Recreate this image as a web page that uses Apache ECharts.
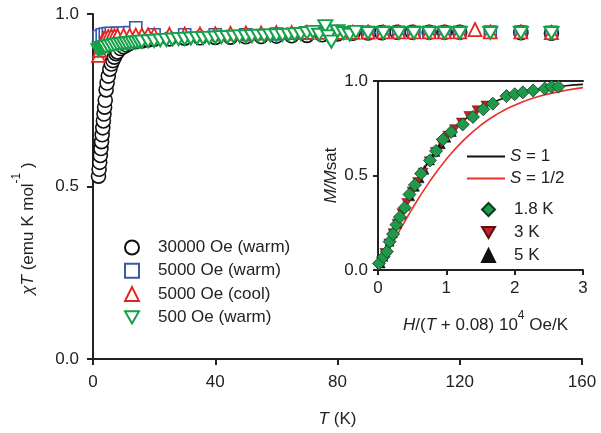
<!DOCTYPE html>
<html><head><meta charset="utf-8">
<script src="https://cdn.jsdelivr.net/npm/echarts@6/dist/echarts.min.js"></script>
<style>html,body{margin:0;padding:0;background:#fff}#c{width:601px;height:433px}</style>
</head><body><div id="c"></div>
<script>
// ---- main plot data: chi*T vs T ----
const T30000 = [1.8,2.0,2.2,2.4,2.6,2.8,3.0,3.2,3.4,3.6,3.8,4.0,4.3,4.6,5.0,5.5,6.0,6.5,7.0,7.5,8.0,9,10,11,12,14,16,18,20,25,30,35,40,45,50,55,60,65,70,75,80,85,90,94.5,99.5,104.5,110,115,120,140,150];
const X30000 = [0.53,0.55,0.57,0.59,0.61,0.63,0.65,0.67,0.69,0.71,0.73,0.75,0.78,0.80,0.82,0.84,0.855,0.865,0.875,0.885,0.89,0.90,0.905,0.91,0.915,0.92,0.922,0.925,0.927,0.928,0.93,0.931,0.932,0.933,0.934,0.935,0.936,0.937,0.938,0.94,0.942,0.944,0.945,0.946,0.947,0.947,0.947,0.947,0.947,0.946,0.944];
const T5000w = [2,3,4,5,6,8,10,12,14,20,30,40,50,60,70,80,90,95,100,105,110,115,120,130,140,150];
const X5000w = [0.935,0.94,0.942,0.943,0.944,0.944,0.945,0.946,0.96,0.94,0.94,0.94,0.94,0.942,0.944,0.945,0.946,0.947,0.947,0.947,0.947,0.947,0.947,0.948,0.948,0.947];
const T5000c = [1.8,2.2,2.6,3,3.5,4,5,6,7,8,10,12,14,16,18,20,25,30,35,40,45,50,55,60,65,70,75,80,85,90,95,100,105,110,115,120,125,130,140,150];
const X5000c = [0.88,0.895,0.91,0.92,0.928,0.932,0.935,0.936,0.937,0.937,0.938,0.938,0.939,0.939,0.94,0.94,0.941,0.942,0.942,0.943,0.944,0.945,0.945,0.946,0.946,0.947,0.947,0.947,0.947,0.948,0.948,0.948,0.948,0.948,0.948,0.948,0.955,0.948,0.948,0.946];
const T500 = [1.8,2.2,2.6,3,3.5,4,5,6,7,8,9,10,11,12,13,14,15,16,18,20,22,24,26,28,30,32,34,36,38,40,42,44,46,48,50,52,54,56,58,60,62,64,66,68,70,72,74,76,77,78,80,82,84,86,90,95,100,105,110,115,120,130,140,150];
const X500 = [0.895,0.9,0.9,0.902,0.903,0.904,0.906,0.908,0.91,0.912,0.913,0.914,0.915,0.916,0.917,0.918,0.919,0.92,0.921,0.922,0.924,0.925,0.926,0.927,0.928,0.929,0.93,0.93,0.931,0.932,0.933,0.933,0.934,0.935,0.935,0.936,0.937,0.937,0.938,0.938,0.939,0.94,0.941,0.942,0.945,0.948,0.94,0.965,0.935,0.92,0.95,0.945,0.94,0.948,0.945,0.945,0.945,0.945,0.945,0.945,0.945,0.945,0.945,0.945];
const mainXTicks = [0,40,80,120,160];
const mainYTicks = [0.0,0.5,1.0];

// ---- inset data: M/Msat vs H/(T+0.08) ----
const curveH = [0,0.25,0.5,0.75,1,1.25,1.5,1.75,2,2.25,2.5,2.75,3];
const curveS1 = [0,0.22,0.418,0.579,0.701,0.79,0.853,0.897,0.928,0.949,0.964,0.975,0.982];
const curveS12 = [0,0.166,0.324,0.465,0.586,0.686,0.765,0.826,0.872,0.907,0.932,0.951,0.965];
const h18 = [0.015,0.083,0.13,0.17,0.22,0.27,0.32,0.39,0.46,0.54,0.63,0.76,0.85,0.95,1.07,1.24,1.39,1.54,1.68,1.88,2.0,2.12,2.27,2.44,2.54,2.64];
const m18 = [0.035,0.07,0.097,0.15,0.19,0.24,0.28,0.33,0.40,0.45,0.51,0.58,0.63,0.69,0.73,0.77,0.81,0.85,0.88,0.92,0.93,0.94,0.95,0.96,0.97,0.97];
const h3 = [0.05,0.1,0.16,0.22,0.28,0.35,0.42,0.5,0.58,0.66,0.75,0.84,0.93,1.02,1.12,1.22,1.33,1.45,1.58];
const m3 = [0.045,0.09,0.14,0.195,0.245,0.3,0.355,0.415,0.465,0.515,0.575,0.625,0.67,0.71,0.745,0.78,0.815,0.845,0.87];
const h5 = [0.04,0.08,0.12,0.17,0.22,0.28,0.34,0.4,0.47,0.54,0.61,0.68,0.76,0.84,0.92,1.0,1.08];
const m5 = [0.035,0.07,0.105,0.15,0.195,0.245,0.295,0.34,0.39,0.44,0.485,0.53,0.58,0.625,0.665,0.7,0.73];
const insetXTicks = [0,1,2,3];
const insetYTicks = [0.0,0.5,1.0];

const zip = (a,b) => a.map((v,i)=>[v,b[i]]);
const FONT = 'Liberation Sans, Arial, sans-serif';
const TXT = '#222';
const DOWN = 'path://M0,0L20,0L10,17.3Z';

const axisBase = (w) => ({
  axisLine:{show:true,onZero:false,lineStyle:{color:'#222',width:w}},
  axisTick:{show:true,inside:false,lineStyle:{color:'#222',width:w}},
  splitLine:{show:false},
  axisLabel:{color:TXT,fontSize:17,fontFamily:FONT}
});
const richSup = (lh) => ({
  i:{fontStyle:'italic',fontSize:17,fontFamily:FONT,color:TXT,lineHeight:lh,verticalAlign:'bottom'},
  n:{fontSize:17,fontFamily:FONT,color:TXT,lineHeight:lh,verticalAlign:'bottom'},
  sup:{fontSize:12,fontFamily:FONT,color:TXT,lineHeight:12,verticalAlign:'top'}
});

const chart = echarts.init(document.getElementById('c'), null, {renderer:'canvas'});
const option = {
  animation:false,
  backgroundColor:'#fff',
  textStyle:{fontFamily:FONT},
  grid:[
    {left:93,top:14,right:19,bottom:73},
    {left:378,top:81,right:18,bottom:163}
  ],
  xAxis:[
    Object.assign(axisBase(2),{gridIndex:0,type:'value',min:mainXTicks[0],max:mainXTicks[mainXTicks.length-1],interval:40,
      axisTick:{show:true,length:6,lineStyle:{color:'#222',width:2}},
      axisLabel:{color:TXT,fontSize:17,fontFamily:FONT,margin:15},
      name:'{i|T}{n| (K)}',nameLocation:'middle',nameGap:49,
      nameTextStyle:{color:TXT,fontSize:17,fontFamily:FONT,rich:richSup(20)}}),
    Object.assign(axisBase(2),{gridIndex:1,type:'value',min:insetXTicks[0],max:insetXTicks[insetXTicks.length-1],interval:1,
      axisTick:{show:true,length:5,lineStyle:{color:'#222',width:2}},
      axisLabel:{color:TXT,fontSize:17,fontFamily:FONT,margin:10},
      name:'{i|H}{n|/(}{i|T}{n| + 0.08) 10}{sup|4}{n| Oe/K}',nameLocation:'middle',nameGap:40,
      nameTextStyle:{color:TXT,fontSize:17,fontFamily:FONT,padding:[0,0,0,10],rich:richSup(24)}}),
    {gridIndex:1,type:'value',position:'top',min:insetXTicks[0],max:insetXTicks[insetXTicks.length-1],interval:1,
      axisLine:{show:true,onZero:false,lineStyle:{color:'#222',width:2}},
      axisTick:{show:false},axisLabel:{show:false},splitLine:{show:false}}
  ],
  yAxis:[
    Object.assign(axisBase(2),{gridIndex:0,type:'value',min:0,max:1,interval:0.5,
      axisTick:{show:true,length:6,lineStyle:{color:'#222',width:2}},
      axisLabel:{color:TXT,fontSize:17,fontFamily:FONT,margin:14,formatter:v=>v.toFixed(1)},
      name:'{i|χT}{n| (emu K mol}{sup|-1}{n| )}',nameLocation:'middle',nameGap:56,nameRotate:90,
      nameTextStyle:{color:TXT,fontSize:17,fontFamily:FONT,padding:[0,84,0,0],rich:richSup(26)}}),
    Object.assign(axisBase(2),{gridIndex:1,type:'value',min:0,max:1,interval:0.5,
      axisTick:{show:true,length:5,lineStyle:{color:'#222',width:2}},
      axisLabel:{color:TXT,fontSize:17,fontFamily:FONT,margin:10,formatter:v=>v.toFixed(1)},
      name:'{i|M/M}{n|sat}',nameLocation:'middle',nameGap:38,nameRotate:90,
      nameTextStyle:{color:TXT,fontSize:17,fontFamily:FONT,rich:richSup(20)}})
  ],
  legend:[
    {left:124,top:239,padding:0,orient:'vertical',itemWidth:14,itemHeight:14,itemGap:6.3,
     textStyle:{color:TXT,fontSize:17,fontFamily:FONT,lineHeight:14,padding:[0,0,0,14]},
     data:[
       {name:'30000 Oe (warm)',icon:'circle',itemStyle:{color:'#fff',borderColor:'#111',borderWidth:2}},
       {name:'5000 Oe (warm)',icon:'rect',itemStyle:{color:'#fff',borderColor:'#3a58a8',borderWidth:2}},
       {name:'5000 Oe (cool)',icon:'triangle',itemStyle:{color:'#fff',borderColor:'#e3261f',borderWidth:2}},
       {name:'500 Oe (warm)',icon:DOWN,itemStyle:{color:'#fff',borderColor:'#16a04a',borderWidth:2}}
     ]},
    {left:467,top:148,padding:0,orient:'vertical',itemWidth:38,itemHeight:2,itemGap:5,
     textStyle:{color:TXT,fontSize:17,fontFamily:FONT,lineHeight:14,
       rich:{i:{fontStyle:'italic',fontSize:17,fontFamily:FONT,color:TXT,lineHeight:14}}},
     formatter:n=>n.replace(/^S/,'{i|S}'),
     data:[{name:'S = 1',icon:'rect'},{name:'S = 1/2',icon:'rect'}]},
    {left:481,top:201,padding:0,orient:'vertical',itemWidth:13,itemHeight:13,itemGap:6,
     textStyle:{color:TXT,fontSize:17,fontFamily:FONT,lineHeight:13,padding:[0,0,0,14]},
     data:[
       {name:'1.8 K',icon:'diamond'},
       {name:'3 K',icon:DOWN},
       {name:'5 K',icon:'triangle'}
     ]}
  ],
  series:[
    {name:'30000 Oe (warm)',type:'scatter',xAxisIndex:0,yAxisIndex:0,symbol:'circle',symbolSize:14,z:2,
     itemStyle:{color:'#fff',borderColor:'#111',borderWidth:1.6,opacity:1},data:zip(T30000,X30000)},
    {name:'5000 Oe (warm)',type:'scatter',xAxisIndex:0,yAxisIndex:0,symbol:'rect',symbolSize:12,z:3,
     itemStyle:{color:'#fff',borderColor:'#3a58a8',borderWidth:1.6,opacity:1},data:zip(T5000w,X5000w)},
    {name:'5000 Oe (cool)',type:'scatter',xAxisIndex:0,yAxisIndex:0,symbol:'triangle',symbolSize:13,z:4,
     itemStyle:{color:'#fff',borderColor:'#e3261f',borderWidth:1.8,opacity:1},data:zip(T5000c,X5000c)},
    {name:'500 Oe (warm)',type:'scatter',xAxisIndex:0,yAxisIndex:0,symbol:DOWN,symbolSize:[14,12],z:5,
     itemStyle:{color:'#fff',borderColor:'#16a04a',borderWidth:2,opacity:1},data:zip(T500,X500)},
    {name:'S = 1',type:'line',xAxisIndex:1,yAxisIndex:1,smooth:true,symbol:'none',z:2,
     lineStyle:{color:'#111',width:1.6},itemStyle:{color:'#111'},data:zip(curveH,curveS1)},
    {name:'S = 1/2',type:'line',xAxisIndex:1,yAxisIndex:1,smooth:true,symbol:'none',z:2,
     lineStyle:{color:'#e8302a',width:1.6},itemStyle:{color:'#e8302a'},data:zip(curveH,curveS12)},
    {name:'5 K',type:'scatter',xAxisIndex:1,yAxisIndex:1,symbol:'triangle',symbolSize:9,z:3,
     itemStyle:{color:'#111',borderColor:'#111',borderWidth:0.5,opacity:1},data:zip(h5,m5)},
    {name:'3 K',type:'scatter',xAxisIndex:1,yAxisIndex:1,symbol:DOWN,symbolSize:[10,9],z:4,
     itemStyle:{color:'#c0202a',borderColor:'#5a1010',borderWidth:0.5,opacity:1},data:zip(h3,m3)},
    {name:'1.8 K',type:'scatter',xAxisIndex:1,yAxisIndex:1,symbol:'diamond',symbolSize:13,z:5,
     itemStyle:{color:'#1f9a4a',borderColor:'#0d3a1e',borderWidth:0.8,opacity:1},data:zip(h18,m18)}
  ]
};
chart.setOption(option);
</script>
</body></html>
